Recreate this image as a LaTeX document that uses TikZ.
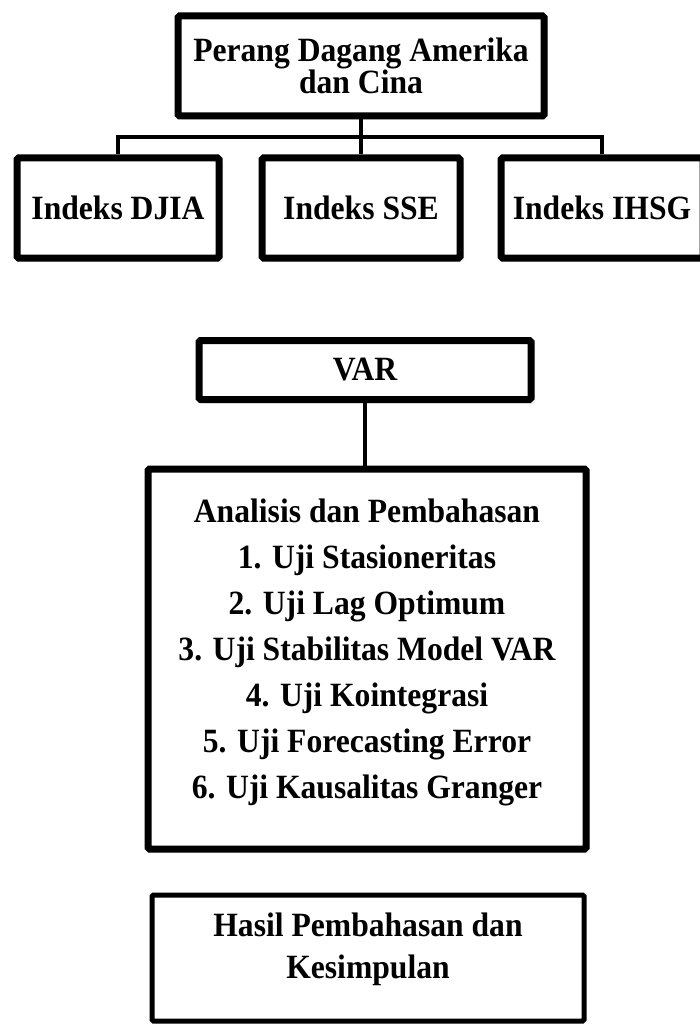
\documentclass[tikz,border=0pt]{standalone}
\usepackage{fontspec}
\setmainfont{Liberation Serif}[FakeStretch=0.93]
\usepackage{tikz}
\usetikzlibrary{shadows}

\begin{document}
\begin{tikzpicture}[
x=1pt, y=-1pt,
box/.style = {draw, line width=7pt, fill=white, rounded corners=1.5pt, align=center,
  inner sep=0pt, font=\fontsize{34}{30}\selectfont\bfseries},
soft shadow/.style = {drop shadow={shadow xshift=4pt, shadow yshift=-4pt, opacity=0.12}},
link/.style = {line width=4.5pt}
]

\useasboundingbox[fill=white] (0,0) rectangle (700,1024);

\node (perang) at (361, 66) [box, soft shadow, minimum width=366pt, minimum height=100pt]
  {Perang Dagang Amerika\\dan Cina};

\node (djia) at (118, 208) [box, soft shadow, minimum width=202pt, minimum height=100pt] {Indeks DJIA};
\node (sse)  at (361, 208) [box, soft shadow, minimum width=198pt, minimum height=100pt] {Indeks SSE};
\node (ihsg) at (602, 208) [box, soft shadow, minimum width=202pt, minimum height=100pt] {Indeks IHSG};

\node (var) at (365, 370) [box, soft shadow, minimum width=332pt, minimum height=59pt] {VAR};

\node (analisis) at (367, 659) [box, soft shadow, minimum width=438pt, minimum height=380pt,
  font=\fontsize{34}{46}\selectfont\bfseries]
  {Analisis dan Pembahasan\\1. Uji Stasioneritas\\2. Uji Lag Optimum\\3. Uji Stabilitas Model VAR\\
   4. Uji Kointegrasi\\5. Uji Forecasting Error\\6. Uji Kausalitas Granger\rule[-21pt]{0pt}{0pt}};

\node (hasil) at (368, 958) [box, line width=5pt, minimum width=432pt, minimum height=126pt,
  font=\fontsize{34}{42}\selectfont\bfseries]
  {Hasil Pembahasan dan\\Kesimpulan\rule[-25pt]{0pt}{0pt}};

\coordinate (split) at (361, 137);

\draw[link] (perang.south) -- (split);
\draw[link] (djia.north) |- (split) -| (ihsg.north);
\draw[link] (split) -- (sse.north);
\draw[link] (var.south) -- (var.south |- analisis.north);
\end{tikzpicture}
\end{document}
